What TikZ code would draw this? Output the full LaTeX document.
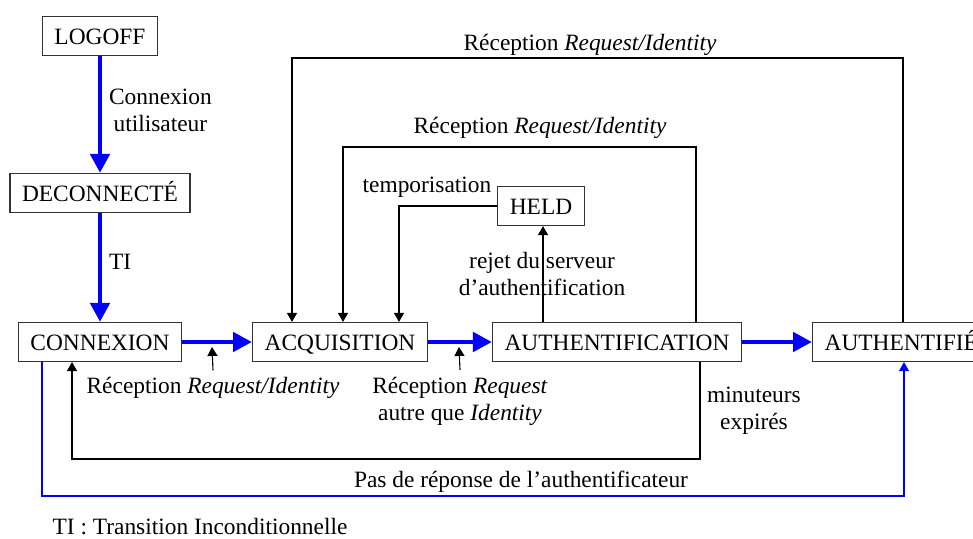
\documentclass[tikz,border=0pt]{standalone}
\usepackage{fontspec}
\setmainfont{Liberation Serif}
\usetikzlibrary{arrows.meta}
\definecolor{bleu}{RGB}{0,0,255}
\tikzset{
	etat/.style={rectangle, draw=black!80, line width=0.6pt, minimum height=19.5pt, inner xsep=6pt, inner ysep=2pt, text height=8.2pt, text depth=0pt},
	trans/.style={-{Triangle[length=9.5pt,width=9.5pt]}, bleu, line width=2.4pt},
	evt/.style={-{Triangle[length=4.5pt,width=5pt]}, line width=0.55pt},
	lbl/.style={align=center}
}

\begin{document}
\begin{tikzpicture}[x=0.5pt, y=-0.5pt, font=\fontsize{11.7}{13.5}\selectfont]
		\path[use as bounding box, clip] (0,0) rectangle (973,539);
		\node at (100,36) [etat] (logoff) {LOGOFF};
		\node at (100,193) [etat] (deconnecte) {DECONNECTÉ};
		\node at (100,342) [etat] (connexion) {CONNEXION};
		\node at (340,342) [etat] (acquisition) {ACQUISITION};
		\node at (617,342) [etat] (auth) {AUTHENTIFICATION};
		\node at (541,206) [etat] (held) {HELD};
		\node at (812,342) [etat, anchor=west] (authentifie) {AUTHENTIFIÉ};
		\draw[trans] (logoff) -- (deconnecte) node[right, midway, lbl, black, yshift=2pt] (lblcnx) {Connexion\\utilisateur};
		\draw[trans] (deconnecte) -- (connexion) node[right, midway, black, yshift=3pt] (lblti) {TI};
		\draw[trans] (connexion) -- (acquisition);
		\draw[trans] (acquisition) -- (auth);
		\draw[trans] (auth) -- (authentifie);
		\node at (213,388) (lblacq) {Réception \textit{Request/Identity}};
		\coordinate (ptacq) at (212,347);
		\draw[evt] (lblacq.north) -- (ptacq);
		\node at (460,401) [lbl] (lblauth) {Réception \textit{Request}\\autre que \textit{Identity}};
		\coordinate (ptauth) at (459,347);
		\draw[evt] (lblauth.north) -- (ptauth);
		\draw[evt] (903,0 |- authentifie.north) |- (292,58) -- (292,0 |- acquisition.north);
		\node at (590,45) (lblhaut) {Réception \textit{Request/Identity}};
		\draw[evt] (696,0 |- auth.north) |- (343,147) -- (343,0 |- acquisition.north);
		\node at (540,128) (lblmilieu) {Réception \textit{Request/Identity}};
		\draw[evt] (held.west) -| (399,0 |- acquisition.north);
		\node at (427,187) (lbltempo) {temporisation};
		\draw[evt] (543,0 |- auth.north) -- (543,0 |- held.south);
		\node at (542,274) [lbl] (lblrejet) {rejet du serveur\\d’authentification};
		\draw[evt] (700,0 |- auth.south) |- (72,459) -- (72,0 |- connexion.south);
		\node at (754,411) [lbl] (lblminut) {minuteurs\\expirés};
		\draw[evt, bleu] (42,0 |- connexion.south) |- (904,496) -- (904,0 |- authentifie.south);
		\node at (521,482) (lblpasrep) {Pas de réponse de l’authentificateur};
		\node at (200,527) (lbllegende) {TI : Transition Inconditionnelle};
		\end{tikzpicture}
\end{document}
